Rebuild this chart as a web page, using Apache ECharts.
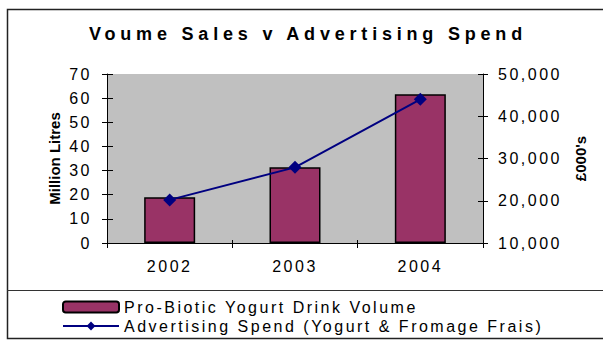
<!DOCTYPE html>
<html><head><meta charset="utf-8">
<script src="https://cdn.jsdelivr.net/npm/echarts@6/dist/echarts.min.js"></script>
<style>html,body{margin:0;padding:0;background:#fff}#c{width:603px;height:341px}</style>
</head><body><div id="c"></div>
<script>
const categories = ['2002', '2003', '2004'];
const volume = [19, 31.4, 61.6];
const spend = [20200, 27900, 44000];
const leftTicks = {min: 0, max: 70, interval: 10};
const rightTicks = {min: 10000, max: 50000, interval: 10000};

const F = '"Liberation Sans", Arial, sans-serif';
const chart = echarts.init(document.getElementById('c'), null, {renderer: 'svg'});
const lbl = {color: '#000', fontFamily: F, fontSize: 16};
chart.setOption({
  animation: false,
  title: {text: 'Voume Sales v Advertising Spend', left: 303, top: 20, textAlign: 'center',
    textStyle: {fontFamily: F, fontSize: 18, fontWeight: 'bold', color: '#000'}},
  graphic: [
    {type: 'rect', shape: {x: 7.5, y: 9.5, width: 640, height: 329}, style: {fill: 'none', stroke: '#222', lineWidth: 1.5}, z: -10},
    {type: 'line', shape: {x1: 7, y1: 290.5, x2: 640, y2: 290.5}, style: {stroke: '#333', lineWidth: 1.2}}
  ],
  legend: {orient: 'vertical', left: 57, top: 294, itemWidth: 56, itemHeight: 11, itemGap: 3,
    textStyle: {fontFamily: F, fontSize: 16, color: '#000', lineHeight: 16},
    data: ['Pro-Biotic Yogurt Drink Volume', 'Advertising Spend (Yogurt & Fromage Frais)']},
  grid: {left: 107, right: 120, top: 74, bottom: 98, show: true, backgroundColor: '#c0c0c0', borderWidth: 0},
  xAxis: [
    {type: 'category', data: categories, boundaryGap: true,
      axisLine: {lineStyle: {color: '#000', width: 1}},
      axisTick: {show: true, length: 5, lineStyle: {color: '#000'}},
      axisLabel: Object.assign({margin: 15}, lbl)},
    {type: 'category', data: categories, position: 'bottom', boundaryGap: true,
      axisLine: {show: false}, axisLabel: {show: false},
      axisTick: {show: true, inside: true, length: 3, lineStyle: {color: '#000'}}}
  ],
  yAxis: [
    Object.assign({type: 'value', position: 'left', name: 'Million Litres', nameLocation: 'middle', nameRotate: 90, nameGap: 45,
      nameTextStyle: {fontFamily: F, fontSize: 15, fontWeight: 'bold', color: '#000'},
      splitLine: {show: false},
      axisLine: {show: true, lineStyle: {color: '#000'}},
      axisTick: {show: true, length: 5, lineStyle: {color: '#000'}},
      axisLabel: Object.assign({margin: 15}, lbl)}, leftTicks),
    Object.assign({type: 'value', position: 'right', name: "£000's", nameLocation: 'middle', nameRotate: 90, nameGap: 90,
      nameTextStyle: {fontFamily: F, fontSize: 15, fontWeight: 'bold', color: '#000'},
      splitLine: {show: false},
      axisLine: {show: true, lineStyle: {color: '#000'}},
      axisTick: {show: true, length: 5, lineStyle: {color: '#000'}},
      axisLabel: Object.assign({margin: 15, formatter: v => v.toLocaleString('en-US')}, lbl)}, rightTicks),
    Object.assign({type: 'value', position: 'left', splitLine: {show: false}, axisLine: {show: false}, axisLabel: {show: false},
      axisTick: {show: true, inside: true, length: 6, lineStyle: {color: '#000'}}}, leftTicks),
    Object.assign({type: 'value', position: 'right', splitLine: {show: false}, axisLine: {show: false}, axisLabel: {show: false},
      axisTick: {show: true, inside: true, length: 5, lineStyle: {color: '#000'}}}, rightTicks)
  ],
  series: [
    {name: 'Pro-Biotic Yogurt Drink Volume', type: 'bar', data: volume, yAxisIndex: 0, barWidth: 51,
      itemStyle: {color: '#993366', borderColor: '#000', borderWidth: 1.5}},
    {name: 'Advertising Spend (Yogurt & Fromage Frais)', type: 'line', data: spend, yAxisIndex: 1,
      symbol: 'diamond', symbolSize: 13, lineStyle: {color: '#000080', width: 2}, itemStyle: {color: '#000080'}}
  ]
});
// Excel-style wide letter spacing for tick labels, legend and title
document.querySelectorAll('#c svg text').forEach(t => {
  const cs = getComputedStyle(t);
  const fs = parseFloat(cs.fontSize);
  const bold = cs.fontWeight === 'bold' || parseInt(cs.fontWeight) >= 600;
  if (bold && fs >= 17) t.setAttribute('letter-spacing', '4.8');
  else if (!bold && fs >= 15) t.setAttribute('letter-spacing', '2.5');
});
</script></body></html>
